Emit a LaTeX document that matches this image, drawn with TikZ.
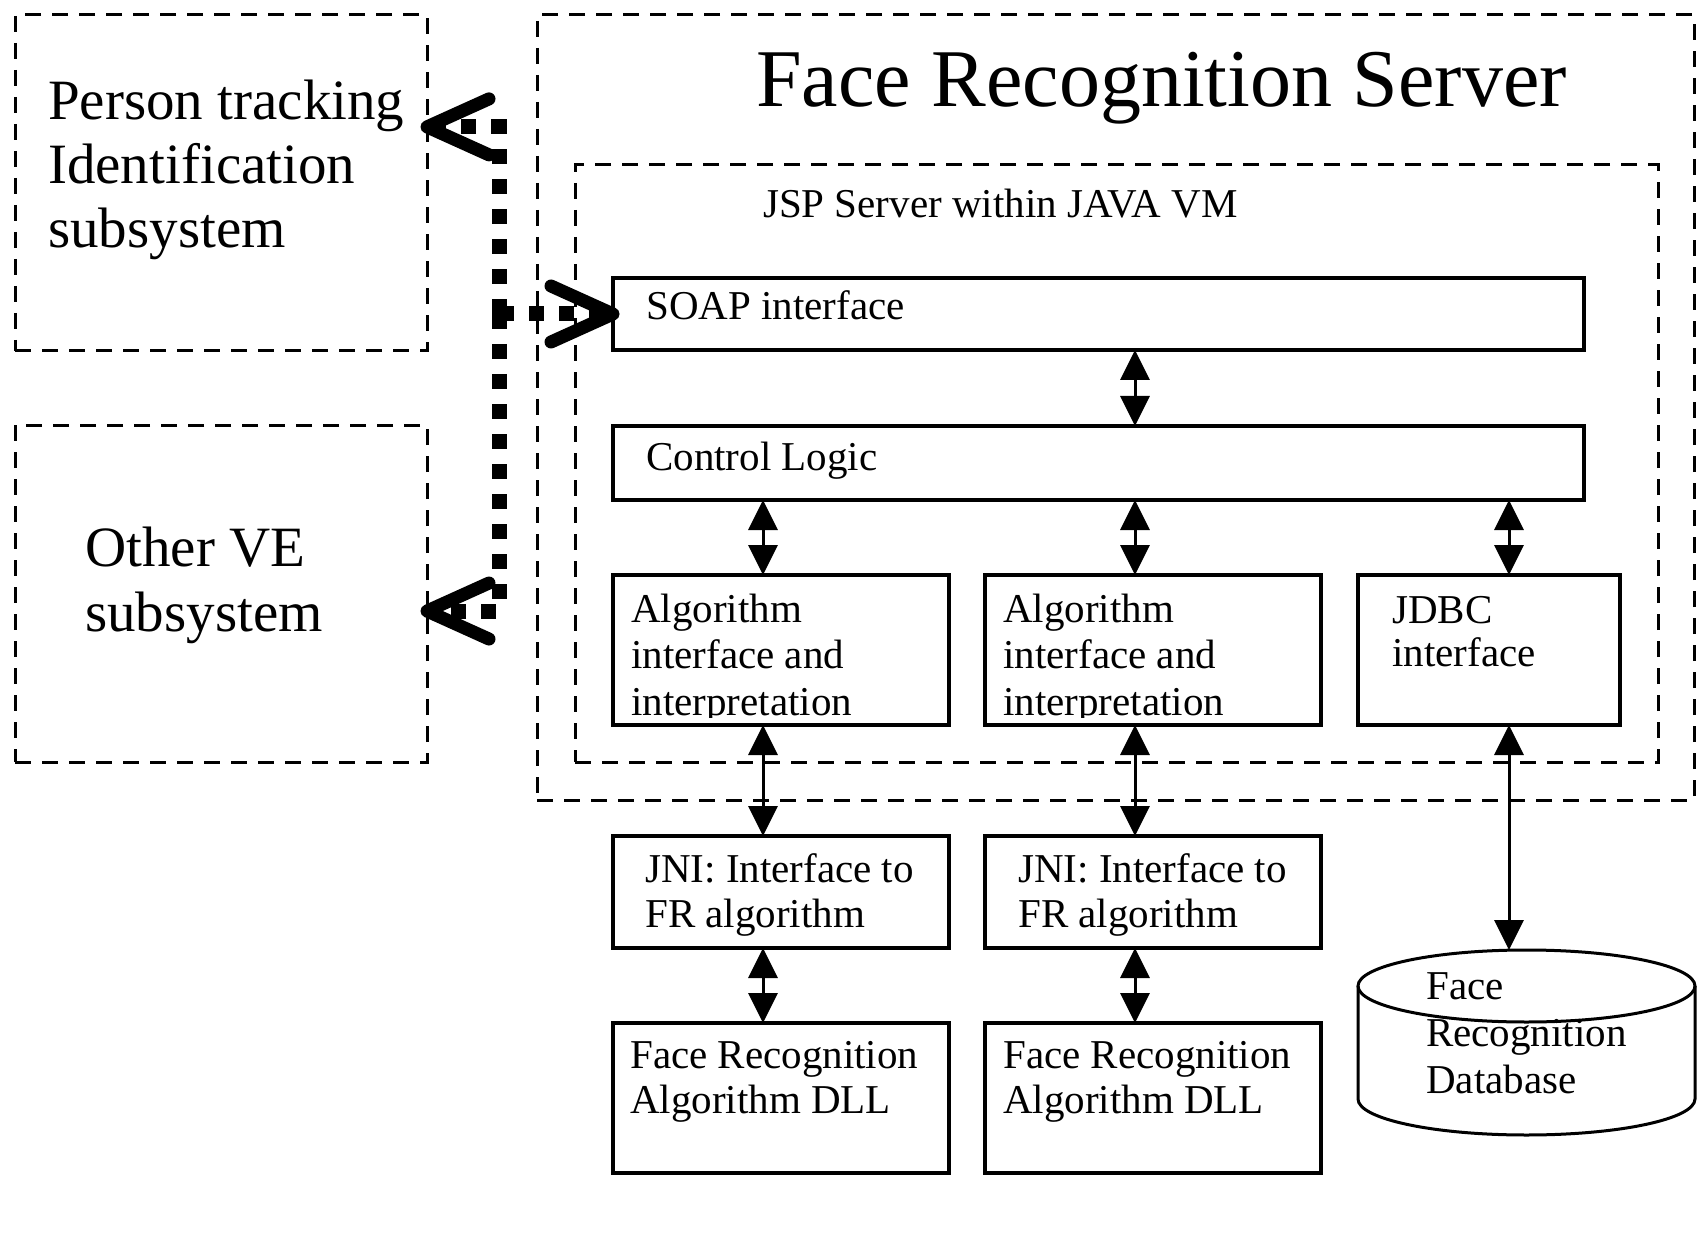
\documentclass[tikz,border=0pt]{standalone}
\usepackage{fontspec}
\setmainfont{Liberation Serif}
\usetikzlibrary{arrows.meta,calc}

\tikzset{
  box/.style={draw, line width=3.5pt, inner sep=0pt, outer sep=0pt, anchor=north west},
  dbox/.style={draw, line width=3pt, dash pattern=on 16pt off 11pt, inner sep=0pt, outer sep=0pt, anchor=north west},
  area/.style={inner sep=0pt, outer sep=0pt, anchor=north west},
  % multi-line labels are placed by the baseline of their last line
  lbl/.style={inner sep=0pt, anchor=base west, align=left, font=\fontsize{41pt}{45pt}\selectfont},
  biglbl/.style={inner sep=0pt, anchor=base west, align=left, font=\fontsize{57pt}{64pt}\selectfont},
  bi/.style={line width=3pt, {Triangle[length=30pt,width=29pt]}-{Triangle[length=30pt,width=29pt]}},
  dotconn/.style={line width=15pt, dash pattern=on 15pt off 15pt},
  chevron/.style={line width=13pt, line cap=round, line join=round},
  drum/.style={line width=3pt}
}

\begin{document}
\begin{tikzpicture}[x=1pt, y=-1pt]
\useasboundingbox (0,0) rectangle (1701,1241);

% outer subsystems
\node[dbox, minimum width=412pt, minimum height=336pt] (person) at (15,15) {};
\node[dbox, minimum width=412pt, minimum height=337pt] (other) at (15,425) {};
\node[biglbl] (personT) at (48,248) {Person tracking\\Identification\\subsystem};
\node[biglbl, font=\fontsize{57pt}{65pt}\selectfont] (otherT) at (85,631) {Other VE\\subsystem};

% server containers
\node[dbox, minimum width=1157pt, minimum height=785pt] (server) at (537,15) {};
\node[dbox, minimum width=1083pt, minimum height=597pt] (jsp) at (575,165) {};
\node[inner sep=0pt, anchor=base west, font=\fontsize{82pt}{90pt}\selectfont] (serverT) at (756,107) {Face Recognition Server};
\node[lbl] (jspT) at (763,218) {JSP Server within JAVA VM};

% component boxes
\node[box, minimum width=971pt, minimum height=72pt] (soap) at (613,278) {};
\node[box, minimum width=971pt, minimum height=74pt] (ctrl) at (613,426) {};
\node[box, minimum width=336pt, minimum height=150pt] (alg1) at (613,575) {};
\node[box, minimum width=336pt, minimum height=150pt] (alg2) at (985,575) {};
\node[box, minimum width=262pt, minimum height=150pt] (jdbc) at (1358,575) {};
\node[box, minimum width=336pt, minimum height=112pt] (jni1) at (613,836) {};
\node[box, minimum width=336pt, minimum height=112pt] (jni2) at (985,836) {};
\node[box, minimum width=336pt, minimum height=150pt] (dll1) at (613,1023) {};
\node[box, minimum width=336pt, minimum height=150pt] (dll2) at (985,1023) {};
\node[area, minimum width=337pt, minimum height=185pt] (db) at (1358,950) {};

% database drum
\draw[drum] ([yshift=-36pt]db.north) ellipse [x radius=168.5pt, y radius=36pt];
\draw[drum] ([yshift=-36pt]db.north west) -- ([yshift=36pt]db.south west)
  arc[start angle=180, end angle=360, x radius=168.5pt, y radius=36pt]
  -- ([yshift=-36pt]db.north east);

% box texts
\node[lbl] (soapT) at (646,320) {SOAP interface};
\node[lbl] (ctrlT) at (646,470) {Control Logic};
\begin{scope}
  \clip (alg1.north west) rectangle ([yshift=8pt]alg1.south east);
  \node[lbl, font=\fontsize{41pt}{46.5pt}\selectfont] (alg1T) at (631,715) {Algorithm\\interface and\\interpretation};
\end{scope}
\begin{scope}
  \clip (alg2.north west) rectangle ([yshift=8pt]alg2.south east);
  \node[lbl, font=\fontsize{41pt}{46.5pt}\selectfont] (alg2T) at (1003,715) {Algorithm\\interface and\\interpretation};
\end{scope}
\node[lbl, font=\fontsize{41pt}{43pt}\selectfont] (jdbcT) at (1392,666) {JDBC\\interface};
\node[lbl] (jni1T) at (645,927) {JNI: Interface to\\FR algorithm};
\node[lbl] (jni2T) at (1018,927) {JNI: Interface to\\FR algorithm};
\node[lbl] (dll1T) at (630,1113) {Face Recognition\\Algorithm DLL};
\node[lbl] (dll2T) at (1003,1113) {Face Recognition\\Algorithm DLL};
\node[lbl, font=\fontsize{41pt}{47pt}\selectfont] (dbT) at (1426,1093) {Face\\Recognition\\Database};

% connector columns
\coordinate (c1) at (763,0);
\coordinate (c2) at (1135,0);
\coordinate (c3) at (1509,0);

\draw[bi] (soap.south -| c2) -- (ctrl.north -| c2);
\draw[bi] (ctrl.south -| c1) -- (alg1.north -| c1);
\draw[bi] (ctrl.south -| c2) -- (alg2.north -| c2);
\draw[bi] (ctrl.south -| c3) -- (jdbc.north -| c3);
\draw[bi] (alg1.south -| c1) -- (jni1.north -| c1);
\draw[bi] (alg2.south -| c2) -- (jni2.north -| c2);
\draw[bi] (jni1.south -| c1) -- (dll1.north -| c1);
\draw[bi] (jni2.south -| c2) -- (dll2.north -| c2);
\draw[bi] (jdbc.south -| c3) -- (db.north -| c3);

% messaging links to the other subsystems
\coordinate (ptip) at ($(person.north east)!0.333!(person.south east)$);
\coordinate (otip) at ($(other.north east)!0.552!(other.south east)$);
\coordinate (hub) at (499,0 |- soap.west);

\draw[dotconn] (hub) -- (hub |- ptip) -- (ptip);
\draw[dotconn] (hub) -- (hub |- otip) -- (otip);
\draw[dotconn] (hub) -- (soap.west);

\draw[chevron] ([shift={(62pt,28pt)}]ptip) -- (ptip) -- ([shift={(62pt,-28pt)}]ptip);
\draw[chevron] ([shift={(62pt,28pt)}]otip) -- (otip) -- ([shift={(62pt,-28pt)}]otip);
\draw[chevron] ([shift={(-62pt,28pt)}]soap.west) -- (soap.west) -- ([shift={(-62pt,-28pt)}]soap.west);
\end{tikzpicture}
\end{document}
